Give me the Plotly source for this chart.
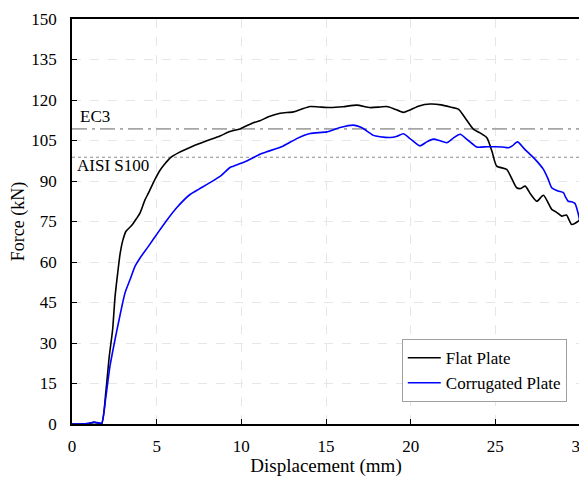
import plotly.graph_objects as go

flat_x = [0, 0.5, 1.0, 1.3, 1.5, 1.75, 2.0, 2.2, 2.4, 2.54, 2.7, 2.84, 3.0, 3.19, 3.52, 3.8, 4.02, 4.31, 4.51, 4.9, 5.2, 5.5, 5.79, 6.3, 7.16, 8.0, 8.74, 9.33, 9.92, 10.71, 11.1, 11.6, 12.29, 13.07, 13.5, 14.06, 14.6, 15.24, 16.0, 16.82, 17.6, 18.19, 18.59, 19.0, 19.57, 19.96, 20.5, 21.15, 21.8, 22.4, 22.82, 23.2, 23.7, 24.1, 24.5, 24.8, 25.08, 25.67, 26.0, 26.26, 26.5, 26.76, 27.1, 27.45, 27.84, 28.33, 28.6, 28.92, 29.2, 29.51, 29.9, 30]
flat_y = [0, 0, 0.2, 0.6, 0.4, 0, 12, 25, 35, 47, 56, 63, 68, 71.4, 73.5, 76, 78.2, 83, 85.5, 90.6, 94, 96.5, 98.5, 100.5, 103, 105, 106.7, 108.3, 109.3, 111.6, 112.3, 113.8, 115.1, 115.6, 116.5, 117.6, 117.4, 117.2, 117.5, 118.1, 117.2, 117.4, 117.6, 116.8, 115.4, 116.3, 117.8, 118.5, 118.2, 117.3, 116.6, 113.5, 109.2, 107.8, 106, 101, 95.5, 94.3, 90.5, 87.5, 87.2, 88.1, 85, 82.5, 84.7, 79.5, 78.5, 77, 77.4, 73.9, 75.1, 76]

corr_x = [0, 0.5, 1.0, 1.3, 1.5, 1.75, 2.0, 2.24, 2.5, 2.74, 3.13, 3.43, 3.72, 4.02, 4.51, 5.2, 5.6, 6.18, 6.97, 7.5, 8.15, 8.8, 9.33, 9.53, 10.32, 11.1, 11.5, 12.48, 13.27, 14.06, 15.04, 15.83, 16.62, 17.1, 17.8, 18.19, 18.78, 19.2, 19.57, 19.96, 20.55, 20.95, 21.34, 21.7, 22.13, 22.5, 22.92, 23.4, 23.9, 24.5, 24.99, 25.4, 25.77, 26.0, 26.31, 26.7, 27.15, 27.5, 27.84, 28.1, 28.33, 28.7, 29.02, 29.15, 29.3, 29.5, 29.7, 29.85, 30]
corr_y = [0, 0, 0.3, 0.7, 0.5, 0.3, 10, 21.3, 30, 37.4, 48.5, 53.5, 58.4, 61.5, 65.8, 72, 75.5, 80.1, 85, 87, 89.4, 92, 95, 95.5, 97.4, 99.9, 100.8, 103, 105.7, 107.6, 108.2, 109.8, 110.7, 109.8, 106.9, 106.4, 106.1, 106.6, 107.5, 105.7, 103, 104.5, 105.5, 105, 104.2, 105.8, 107.3, 105, 102.6, 102.7, 102.7, 102.6, 102.3, 103, 104.5, 102, 99.3, 97, 94.3, 91, 87.5, 86.3, 85.7, 84, 82.5, 82.3, 81.7, 79, 75]

ec3_value = 109.3
aisi_value = 98.8
x_range = [0, 30]
y_range = [0, 150]
x_ticks = [0, 5, 10, 15, 20, 25, 30]
y_ticks = [0, 15, 30, 45, 60, 75, 90, 105, 120, 135, 150]

FONT = "Liberation Serif"

fig = go.Figure()
fig.add_trace(go.Scatter(x=x_range, y=[ec3_value, ec3_value], mode="lines",
                         line=dict(color="#a6a6a6", width=1.8, dash="15px,5px,3px,5px"),
                         showlegend=False, hoverinfo="skip"))
fig.add_trace(go.Scatter(x=x_range, y=[aisi_value, aisi_value], mode="lines",
                         line=dict(color="#8c8c8c", width=1, dash="dot"),
                         showlegend=False, hoverinfo="skip"))
fig.add_trace(go.Scatter(x=flat_x, y=flat_y, mode="lines", name="Flat Plate",
                         line=dict(color="black", width=1.6, shape="spline", smoothing=0.6)))
fig.add_trace(go.Scatter(x=corr_x, y=corr_y, mode="lines", name="Corrugated Plate",
                         line=dict(color="#0000ff", width=1.6, shape="spline", smoothing=0.6)))

fig.add_annotation(x=0.35, y=114, text="EC3", showarrow=False, xanchor="left",
                   font=dict(family=FONT, size=17, color="black"))
fig.add_annotation(x=0.15, y=95.6, text="AISI S100", showarrow=False, xanchor="left",
                   font=dict(family=FONT, size=17, color="black"))

axis_common = dict(showline=True, linecolor="black", linewidth=1.5, mirror=True,
                   ticks="inside", ticklen=5, tickcolor="black", tickwidth=1,
                   showgrid=True, gridcolor="#e6e6e6", griddash="dash", gridwidth=1,
                   zeroline=False, automargin=False, ticklabeloverflow="allow",
                   tickfont=dict(family=FONT, size=17, color="black"))

fig.update_xaxes(range=x_range, tickvals=x_ticks, ticklabelstandoff=6, **axis_common,
                 title=dict(text="Displacement (mm)", font=dict(family=FONT, size=19, color="black"), standoff=6))
fig.update_yaxes(range=y_range, tickvals=y_ticks, ticklabelstandoff=10, **axis_common,
                 title=dict(text="Force (kN)", font=dict(family=FONT, size=18, color="black"), standoff=10))

fig.update_layout(
    width=579, height=469,
    margin=dict(l=64, r=7, t=11, b=53),
    plot_bgcolor="white", paper_bgcolor="white",
    font=dict(family=FONT, size=17, color="black"),
    legend=dict(x=0.974, y=0.054, xanchor="right", yanchor="bottom",
                bgcolor="white", bordercolor="#a0a0a0", borderwidth=1,
                font=dict(family=FONT, size=17, color="black"),
                itemwidth=33, tracegroupgap=4),
)

fig.write_html("out.html")
